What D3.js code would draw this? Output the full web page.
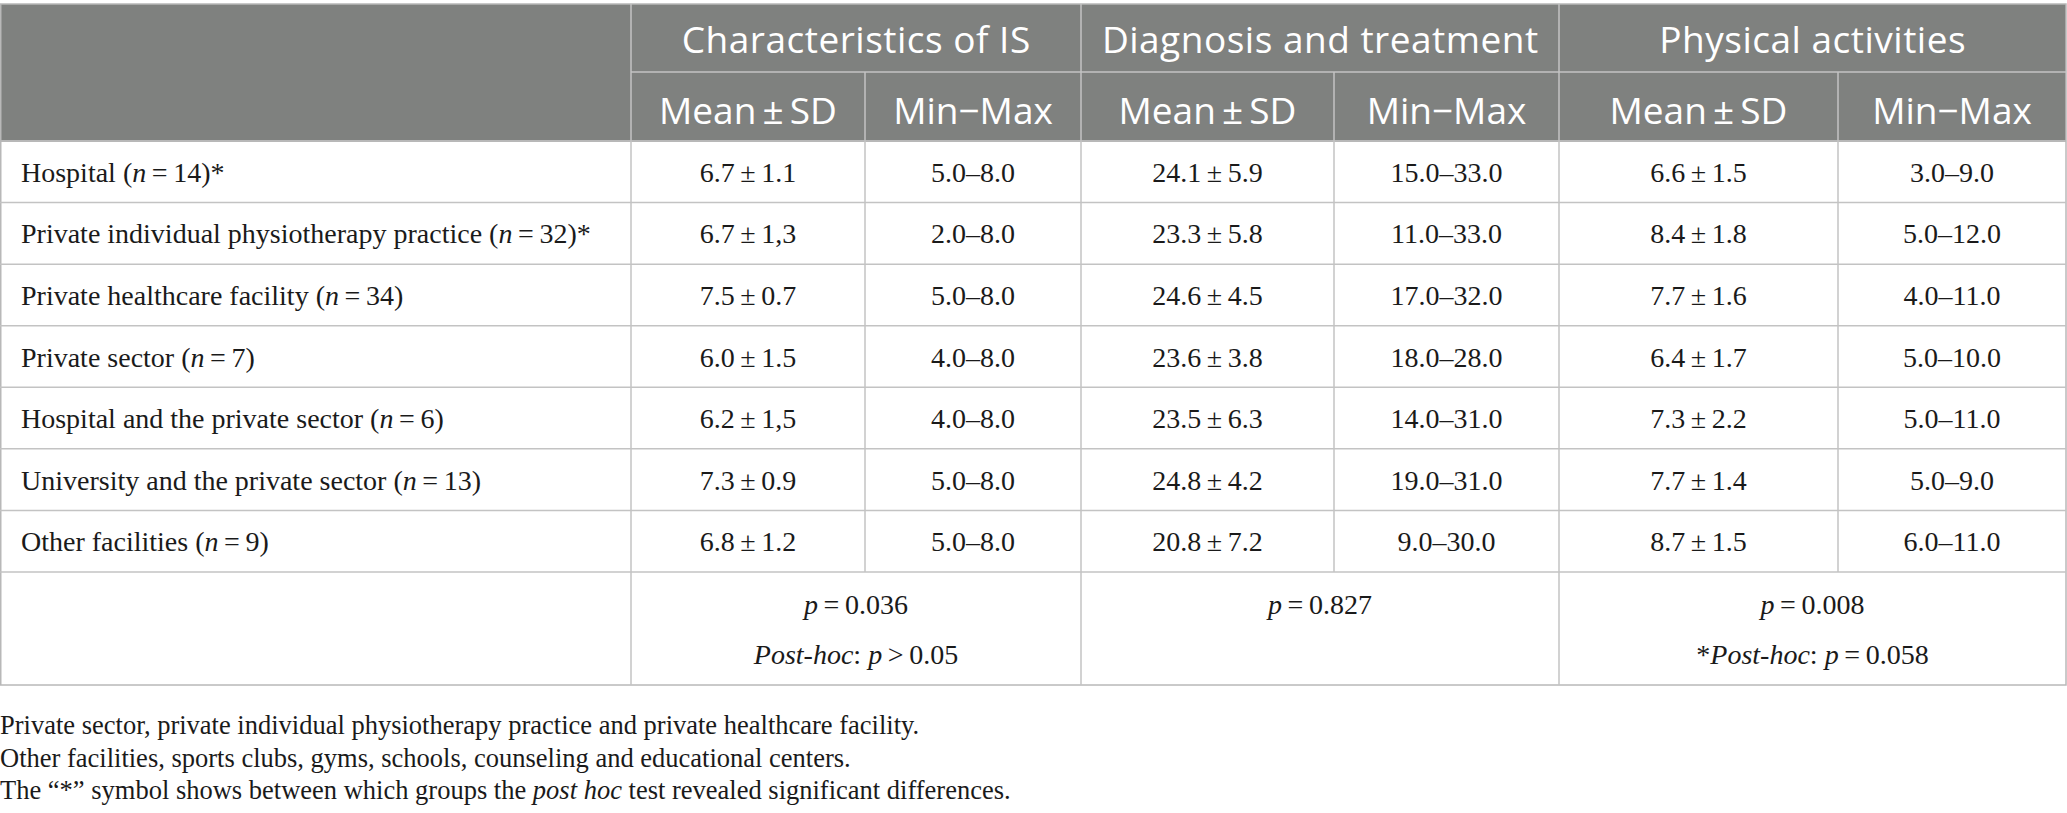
<!DOCTYPE html>
<html>
<head>
<meta charset="utf-8">
<script src="https://cdn.jsdelivr.net/npm/d3@7"></script>
<style>
  html, body { margin: 0; padding: 0; background: #ffffff; }
  svg { display: block; }
</style>
</head>
<body>
<div id="chart"></div>
<script>
// ---------------- data ----------------
const facilities = [
  "Hospital",
  "Private individual physiotherapy practice",
  "Private healthcare facility",
  "Private sector",
  "Hospital and the private sector",
  "University and the private sector",
  "Other facilities"
];
const nValues = [14, 32, 34, 7, 6, 13, 9];
const starred = [true, true, false, false, false, false, false];

const domains = ["Characteristics of IS", "Diagnosis and treatment", "Physical activities"];
const subHeaders = ["Mean\u2009\u00B1\u2009SD", "Min\u2212Max"];

const isMean = ["6.7", "6.7", "7.5", "6.0", "6.2", "7.3", "6.8"];
const isSD   = ["1.1", "1,3", "0.7", "1.5", "1,5", "0.9", "1.2"];
const isMin  = ["5.0", "2.0", "5.0", "4.0", "4.0", "5.0", "5.0"];
const isMax  = ["8.0", "8.0", "8.0", "8.0", "8.0", "8.0", "8.0"];

const dtMean = ["24.1", "23.3", "24.6", "23.6", "23.5", "24.8", "20.8"];
const dtSD   = ["5.9", "5.8", "4.5", "3.8", "6.3", "4.2", "7.2"];
const dtMin  = ["15.0", "11.0", "17.0", "18.0", "14.0", "19.0", "9.0"];
const dtMax  = ["33.0", "33.0", "32.0", "28.0", "31.0", "31.0", "30.0"];

const paMean = ["6.6", "8.4", "7.7", "6.4", "7.3", "7.7", "8.7"];
const paSD   = ["1.5", "1.8", "1.6", "1.7", "2.2", "1.4", "1.5"];
const paMin  = ["3.0", "5.0", "4.0", "5.0", "5.0", "5.0", "6.0"];
const paMax  = ["9.0", "12.0", "11.0", "10.0", "11.0", "9.0", "11.0"];

const pValues = ["0.036", "0.827", "0.008"];
const postHocPrefix = ["", null, "*"];
const postHocTests = ["p > 0.05", null, "p = 0.058"];

const footnotes = [
  [{t: "Private sector, private individual physiotherapy practice and private healthcare facility."}],
  [{t: "Other facilities, sports clubs, gyms, schools, counseling and educational centers."}],
  [{t: "The \u201C*\u201D symbol shows between which groups the "}, {t: "post hoc", i: true}, {t: " test revealed significant differences."}]
];

// ---------------- layout ----------------
const W = 2067, H = 813;
const colEdges = [0, 631, 865, 1081, 1334, 1559, 1838, 2066];
const topY = 4, headMidY = 72, headBottom = 141, bodyBottom = 572, tableBottom = 685;

const headerFill = "#7f817f";
const lineColor = "#c3c3c3";
const serif = "'Liberation Serif', 'Times New Roman', serif";
const sans = "'Open Sans', 'Noto Sans', sans-serif";
const bodySize = 28;
const headSize = 37;

const svg = d3.select("#chart").append("svg")
  .attr("width", W).attr("height", H)
  .attr("viewBox", `0 0 ${W} ${H}`);

const y = d3.scaleBand().domain(d3.range(facilities.length)).range([headBottom, bodyBottom]);
const colX = i => colEdges[i];
const colC = i => (colEdges[i] + colEdges[i + 1]) / 2;

// header background
svg.append("rect").attr("x", 0).attr("y", topY)
  .attr("width", colEdges[7]).attr("height", headBottom - topY)
  .attr("fill", headerFill);

// grid lines
const g = svg.append("g").attr("stroke", lineColor).attr("fill", "none");
g.append("rect").attr("x", 0.75).attr("y", topY).attr("width", colEdges[7] - 0.75).attr("height", tableBottom - topY)
  .attr("stroke-width", 1.5).attr("stroke", "#b8b8b8");
g.append("line").attr("x1", colEdges[1]).attr("x2", colEdges[7]).attr("y1", headMidY).attr("y2", headMidY).attr("stroke-width", 1.5);
g.append("line").attr("x1", 0).attr("x2", colEdges[7]).attr("y1", headBottom).attr("y2", headBottom).attr("stroke-width", 2).attr("stroke", "#b8b8b8");
d3.range(1, facilities.length + 1).forEach(i => {
  const yy = i < facilities.length ? y(i) : bodyBottom;
  g.append("line").attr("x1", 0).attr("x2", colEdges[7]).attr("y1", yy).attr("y2", yy).attr("stroke-width", 1.5);
});
[1, 3, 5].forEach(i => {
  g.append("line").attr("x1", colX(i)).attr("x2", colX(i)).attr("y1", topY).attr("y2", tableBottom).attr("stroke-width", 1.5);
});
[2, 4, 6].forEach(i => {
  g.append("line").attr("x1", colX(i)).attr("x2", colX(i)).attr("y1", headMidY).attr("y2", bodyBottom).attr("stroke-width", 1.5);
});

// header text
domains.forEach((d, k) => {
  svg.append("text").attr("x", (colEdges[1 + 2 * k] + colEdges[3 + 2 * k]) / 2 + 0.25)
    .attr("y", 53)
    .attr("text-anchor", "middle").attr("fill", "#ffffff")
    .attr("font-family", sans).attr("font-size", headSize).attr("letter-spacing", 0.5).text(d);
  subHeaders.forEach((s, j) => {
    svg.append("text").attr("x", colC(1 + 2 * k + j))
      .attr("y", 124)
      .attr("text-anchor", "middle").attr("fill", "#ffffff")
      .attr("font-family", sans).attr("font-size", headSize).text(s);
  });
});

// body rows
const thin = "\u2009";
const rows = svg.append("g").attr("font-family", serif).attr("font-size", bodySize).attr("fill", "#1a1a1a");
facilities.forEach((f, i) => {
  const cy = y(i) + y.bandwidth() / 2 + 10;
  const t = rows.append("text").attr("x", 21).attr("y", cy);
  t.append("tspan").text(f + " (");
  t.append("tspan").attr("font-style", "italic").text("n");
  t.append("tspan").text(thin + "=" + thin + nValues[i] + ")" + (starred[i] ? "*" : ""));

  const cells = [
    isMean[i] + thin + "\u00B1" + thin + isSD[i], isMin[i] + "\u2013" + isMax[i],
    dtMean[i] + thin + "\u00B1" + thin + dtSD[i], dtMin[i] + "\u2013" + dtMax[i],
    paMean[i] + thin + "\u00B1" + thin + paSD[i], paMin[i] + "\u2013" + paMax[i]
  ];
  cells.forEach((c, j) => {
    rows.append("text").attr("x", colC(1 + j)).attr("y", cy).attr("text-anchor", "middle").text(c);
  });
});

// p-value row
pValues.forEach((p, k) => {
  const cx = (colEdges[1 + 2 * k] + colEdges[3 + 2 * k]) / 2;
  const t = rows.append("text").attr("x", cx).attr("y", 614).attr("text-anchor", "middle");
  t.append("tspan").attr("font-style", "italic").text("p");
  t.append("tspan").text(thin + "=" + thin + p);
  if (postHocTests[k]) {
    const t2 = rows.append("text").attr("x", cx).attr("y", 664).attr("text-anchor", "middle");
    t2.append("tspan").text(postHocPrefix[k]);
    t2.append("tspan").attr("font-style", "italic").text("Post-hoc");
    t2.append("tspan").text(": ");
    const parts = postHocTests[k].split(" ");
    t2.append("tspan").attr("font-style", "italic").text(parts[0]);
    t2.append("tspan").text(thin + parts[1] + thin + parts[2]);
  }
});

// footnotes
const fn = svg.append("g").attr("font-family", serif).attr("font-size", 26.5).attr("fill", "#1a1a1a");
footnotes.forEach((line, i) => {
  const t = fn.append("text").attr("x", 0).attr("y", 734 + i * 32.5);
  line.forEach(s => {
    const sp = t.append("tspan").text(s.t);
    if (s.i) sp.attr("font-style", "italic");
  });
});
</script>
</body>
</html>
